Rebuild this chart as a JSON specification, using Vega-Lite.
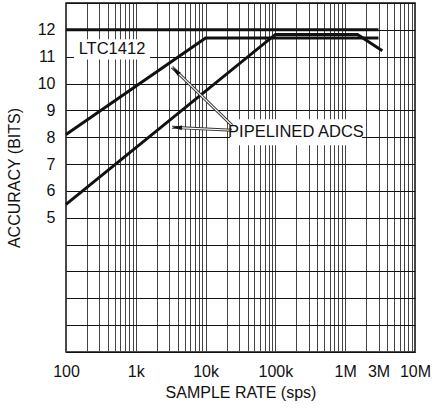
{
  "$schema": "https://vega.github.io/schema/vega-lite/v6.json",
  "width": 349,
  "height": 349,
  "autosize": "none",
  "padding": {"left": 66, "top": 3, "right": 20, "bottom": 57},
  "background": "white",
  "config": {
    "view": {"stroke": "#111", "strokeWidth": 1.5},
    "font": "Liberation Sans"
  },
  "datasets": {
    "curves": [
      {"series": "LTC1412", "rate": 100, "bits": 12},
      {"series": "LTC1412", "rate": 3000000, "bits": 12},
      {"series": "Pipelined A", "rate": 100, "bits": 8.1},
      {"series": "Pipelined A", "rate": 10000, "bits": 11.7},
      {"series": "Pipelined A", "rate": 3000000, "bits": 11.7},
      {"series": "Pipelined B", "rate": 100, "bits": 5.5},
      {"series": "Pipelined B", "rate": 100000, "bits": 11.83},
      {"series": "Pipelined B", "rate": 1500000, "bits": 11.83},
      {"series": "Pipelined B", "rate": 3400000, "bits": 11.22}
    ],
    "boxes": [
      {"label": "LTC1412", "rate": 130, "rate2": 1600, "bits": 10.9, "bits2": 11.65},
      {"label": "PIPELINED ADCS", "rate": 22400, "rate2": 1740000, "bits": 7.7, "bits2": 8.67}
    ],
    "arrows": [
      {"arrow": "upper", "rate": 23900, "bits": 8.44},
      {"arrow": "upper", "rate": 3300, "bits": 10.61},
      {"arrow": "lower", "rate": 23900, "bits": 8.26},
      {"arrow": "lower", "rate": 3300, "bits": 8.37}
    ],
    "heads": [
      {"arrow": "upper", "rate": 3720, "bits": 10.48},
      {"arrow": "lower", "rate": 3890, "bits": 8.36}
    ],
    "labels": [
      {"label": "LTC1412", "rate": 456, "bits": 11.28},
      {"label": "PIPELINED ADCS", "rate": 197000, "bits": 8.18}
    ]
  },
  "encoding": {
    "x": {
      "field": "rate",
      "type": "quantitative",
      "scale": {"type": "log", "domain": [100, 10000000], "nice": false},
      "axis": {
        "values": [100,200,300,400,500,600,700,800,900,1000,2000,3000,4000,5000,6000,7000,8000,9000,10000,20000,30000,40000,50000,60000,70000,80000,90000,100000,200000,300000,400000,500000,600000,700000,800000,900000,1000000,2000000,3000000,4000000,5000000,6000000,7000000,8000000,9000000,10000000],
        "labelExpr": "datum.value==100?'100':datum.value==1000?'1k':datum.value==10000?'10k':datum.value==100000?'100k':datum.value==1000000?'1M':datum.value==3000000?'3M':datum.value==10000000?'10M':''",
        "grid": true,
        "gridColor": "#444",
        "gridWidth": 1,
        "gridOpacity": 1,
        "ticks": false,
        "domain": false,
        "labelOverlap": false,
        "labelFlush": false,
        "labelBound": false,
        "labelPadding": 11,
        "labelFontSize": 16,
        "labelColor": "#111",
        "labelDx": 2,
        "title": "SAMPLE RATE (sps)",
        "titleFontSize": 16,
        "titleFontWeight": "normal",
        "titleColor": "#111",
        "titlePadding": 5
      }
    },
    "y": {
      "field": "bits",
      "type": "quantitative",
      "scale": {"domain": [0, 13], "nice": false},
      "axis": {
        "values": [0,1,2,3,4,5,6,7,8,9,10,11,12,13],
        "labelExpr": "datum.value>=5 && datum.value<=12 ? datum.label : ''",
        "grid": true,
        "gridColor": "#111",
        "gridWidth": 1.2,
        "gridOpacity": 1,
        "ticks": false,
        "domain": false,
        "labelPadding": 11,
        "labelFontSize": 16,
        "labelColor": "#111",
        "labelBound": false,
        "title": "ACCURACY (BITS)",
        "titleFontSize": 16,
        "titleFontWeight": "normal",
        "titleColor": "#111",
        "titlePadding": 15
      }
    }
  },
  "layer": [
    {
      "data": {"name": "boxes"},
      "mark": {"type": "rect", "fill": "white", "stroke": null},
      "encoding": {
        "x2": {"field": "rate2"},
        "y2": {"field": "bits2"}
      }
    },
    {
      "data": {"name": "curves"},
      "mark": {"type": "line", "color": "#111", "strokeWidth": 3, "strokeJoin": "miter"},
      "encoding": {
        "detail": {"field": "series"}
      }
    },
    {
      "data": {"name": "arrows"},
      "mark": {"type": "line", "color": "#333", "strokeWidth": 3},
      "encoding": {"detail": {"field": "arrow"}}
    },
    {
      "data": {"name": "arrows"},
      "mark": {"type": "line", "color": "white", "strokeWidth": 1.2},
      "encoding": {"detail": {"field": "arrow"}}
    },
    {
      "data": {"name": "heads"},
      "transform": [{"filter": "datum.arrow=='upper'"}],
      "mark": {"type": "point", "shape": "M0,-1L0.45,1L-0.45,1Z", "filled": true, "color": "#111", "opacity": 1, "size": 100, "angle": 314}
    },
    {
      "data": {"name": "heads"},
      "transform": [{"filter": "datum.arrow=='lower'"}],
      "mark": {"type": "point", "shape": "M0,-1L0.45,1L-0.45,1Z", "filled": true, "color": "#111", "opacity": 1, "size": 100, "angle": 273}
    },
    {
      "data": {"name": "labels"},
      "mark": {"type": "text", "fontSize": 16.5, "color": "#111", "align": "center", "baseline": "middle"},
      "encoding": {"text": {"field": "label"}}
    }
  ]
}
